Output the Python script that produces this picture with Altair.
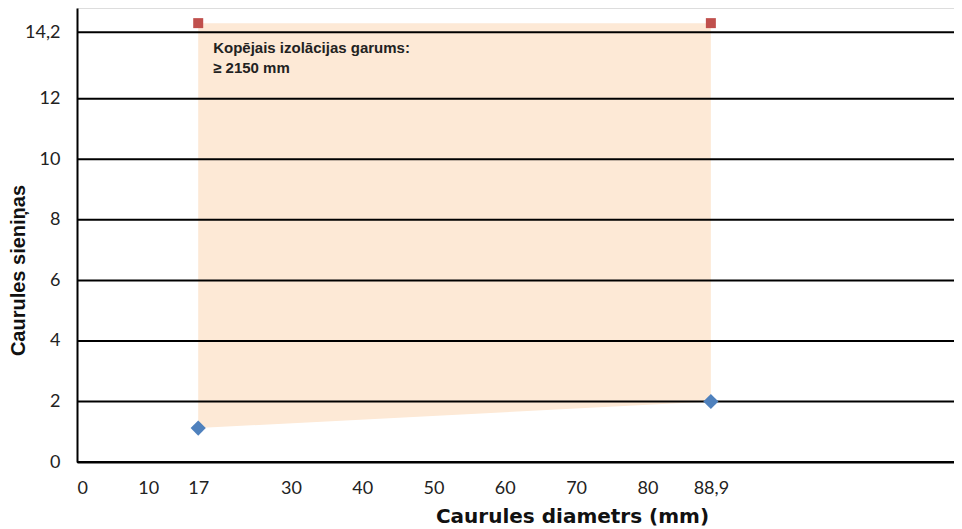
import altair as alt
import pandas as pd

# Data
diam = [17, 88.9]               # Caurules diametrs (mm)
wall_min = [1.12, 2.0]          # lower edge (blue diamonds)
wall_max = [14.5, 14.5]         # upper edge (red squares)
y_ticks = [0, 2, 4, 6, 8, 10, 12, 14.2]
x_ticks = [0, 10, 17, 30, 40, 50, 60, 70, 80, 88.9]
note_lines = ["Kopējais izolācijas garums:", "≥ 2150 mm"]
note_x = [19.1, 19.1]
note_y = [13.5, 12.86]

df = pd.DataFrame({"d": diam, "lo": wall_min, "hi": wall_max})
grid_df = pd.DataFrame({"y": y_ticks})
note_df = pd.DataFrame({"t": note_lines, "x": note_x, "y": note_y})

xs = alt.Scale(domain=[0, 123], nice=False, zero=False)
ys = alt.Scale(domain=[0, 15], nice=False, zero=False)

lbl = "replace(format(datum.value, '.4~g'), '.', ',')"

x_axis = alt.Axis(
    values=x_ticks, labelExpr=lbl,
    grid=False, ticks=False, tickSize=0, labelPadding=17,
    labelFont="Lato", labelFontSize=18, labelColor="#222222",
    title="Caurules diametrs (mm)", titleFont="DejaVu Sans", titleFontSize=20,
    titleFontWeight="bold", titleColor="#111111",
    titleX=495, titleY=44, titleBaseline="top", titleAlign="center",
    domainColor="black", domainWidth=2,
)
y_axis = alt.Axis(
    values=y_ticks, labelExpr=lbl,
    grid=False, ticks=False, tickSize=0, labelPadding=17,
    labelFont="Lato", labelFontSize=18, labelColor="#222222",
    title="Caurules sieniņas", titleFont="Liberation Sans", titleFontSize=20,
    titleFontWeight="bold", titleColor="#111111",
    titleX=-49, titleY=262, titleAngle=-90, titleBaseline="bottom", titleAlign="center",
    domainColor="black", domainWidth=2,
)

area = alt.Chart(df).mark_area(color="#FDE9D6", opacity=1).encode(
    x=alt.X("d:Q", scale=xs, axis=x_axis),
    y=alt.Y("lo:Q", scale=ys, axis=y_axis),
    y2="hi:Q",
)

grid = alt.Chart(grid_df).mark_rule(color="black", strokeWidth=2).encode(
    y=alt.Y("y:Q", scale=ys)
)

squares = alt.Chart(df).mark_square(size=100, color="#C0504D", opacity=1).encode(
    x=alt.X("d:Q", scale=xs), y=alt.Y("hi:Q", scale=ys)
)

diamonds = alt.Chart(df).mark_point(
    shape="diamond", filled=True, size=230, color="#4F81BD", opacity=1
).encode(x=alt.X("d:Q", scale=xs), y=alt.Y("lo:Q", scale=ys))

note = alt.Chart(note_df).mark_text(
    align="left", baseline="alphabetic", font="Liberation Sans",
    fontSize=15, fontWeight="bold", color="#222222"
).encode(x=alt.X("x:Q", scale=xs), y=alt.Y("y:Q", scale=ys), text="t:N")

chart = alt.layer(area, grid, squares, diamonds, note).properties(
    width=877, height=454,
    autosize=alt.AutoSizeParams(type="none"),
    padding={"left": 69, "top": 0, "right": 0, "bottom": 67},
).configure_view(stroke=None).configure(background="white")

chart.save("out.html", embed_options={"renderer": "svg", "actions": False})
